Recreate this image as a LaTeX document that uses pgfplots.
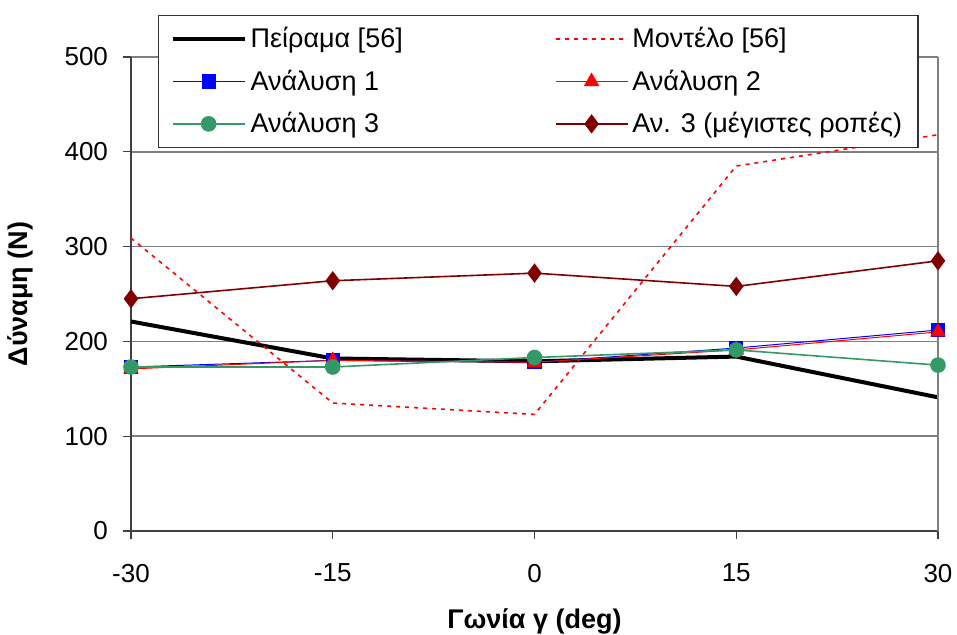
\documentclass[border=0pt]{standalone}
\usepackage{pgfplots}
\pgfplotsset{compat=1.18}
\usepackage{fontspec}
\setmainfont{Liberation Sans}
\usetikzlibrary{calc}
\definecolor{cgreen}{RGB}{51,153,102}
\definecolor{cdred}{RGB}{128,0,0}
\definecolor{cgrid}{RGB}{128,128,128}
\begin{document}
\begin{tikzpicture}
\begin{axis}[
  scale only axis,
  width=403.5bp, height=237bp,
  xmin=-30, xmax=30, ymin=0, ymax=500,
  xtick={-30,-15,0,15,30},
  ytick={0,100,200,300,400,500},
  axis x line*=bottom, axis y line*=left,
  axis line style={black!75, line width=0.6pt, -},
  tick align=outside, major tick length=4bp,
  tick style={black!75, line width=0.6pt},
  ymajorgrids, grid style={cgrid, line width=0.8pt},
  /pgf/number format/assume math mode=true,
  ticklabel style={font=\fontsize{13bp}{15bp}\selectfont},
  xticklabel style={yshift=-9bp},
  yticklabel style={xshift=-4bp},
  xlabel={\textbf{Γωνία γ (deg)}},
  ylabel={\textbf{Δύναμη (N)}},
  label style={font=\fontsize{13.5bp}{15bp}\selectfont},
  xlabel style={at={(0.5,0)}, anchor=center, yshift=-45bp},
  ylabel style={at={(0,0.5)}, anchor=center, yshift=55.5bp},
  legend columns=2,
  legend style={
    at={(0.0335,1.0886)}, anchor=north west,
    draw=black!80, line width=0.6pt,
    font=\fontsize{13.5bp}{15bp}\selectfont,
    inner xsep=6bp, inner ysep=4bp,
    row sep=5.5bp,
    cells={anchor=west},
    /tikz/every even column/.append style={column sep=74bp},
  },
  legend image code/.code={
    \draw[mark repeat=2,mark phase=2] plot coordinates {(0bp,0bp) (18bp,0bp) (36bp,0bp)};
  },
  clip=false,
]
\addplot[black, line width=2bp, no markers] coordinates {
  (-30,221) (-15,182) (0,179) (15,184) (30,141)};
\addlegendentry{Πείραμα [56]}
\addplot[red, line width=0.8bp, dash pattern=on 2bp off 2.5bp, no markers] coordinates {
  (-30,309) (-15,135) (0,123) (15,385) (30,418)};
\addlegendentry{Μοντέλο [56]}
\addplot[blue, line width=0.5bp, mark=square*, mark size=3.3bp, mark options={solid, fill=blue, draw=blue}] coordinates {
  (-30,173) (-15,180) (0,178) (15,193) (30,212)};
\addlegendentry{Ανάλυση 1}
\addplot[red, line width=0.5bp, mark=triangle*, mark size=4bp, mark options={solid, fill=red, draw=red}] coordinates {
  (-30,171) (-15,180) (0,178) (15,191) (30,210)};
\addlegendentry{Ανάλυση 2}
\addplot[cgreen, line width=0.8bp, mark=*, mark size=3.5bp, mark options={solid, fill=cgreen, draw=cgreen}] coordinates {
  (-30,173) (-15,173) (0,183) (15,191) (30,175)};
\addlegendentry{Ανάλυση 3}
\addplot[cdred, line width=0.8bp, mark=diamond*, mark size=4.2bp, mark options={solid, fill=cdred, draw=cdred}] coordinates {
  (-30,245) (-15,264) (0,272) (15,258) (30,285)};
\addlegendentry{Αν. 3 (μέγιστες ροπές)}
\draw[cgrid, line width=0.8pt] (rel axis cs:1,0) -- (rel axis cs:1,1);
\coordinate (ll) at (rel axis cs:0,0);
\coordinate (ur) at (rel axis cs:1,1);
\end{axis}
\pgfresetboundingbox
\path ($(ll)+(-65.5bp,-52bp)$) rectangle ($(ur)+(9.5bp,28.5bp)$);
\end{tikzpicture}
\end{document}
